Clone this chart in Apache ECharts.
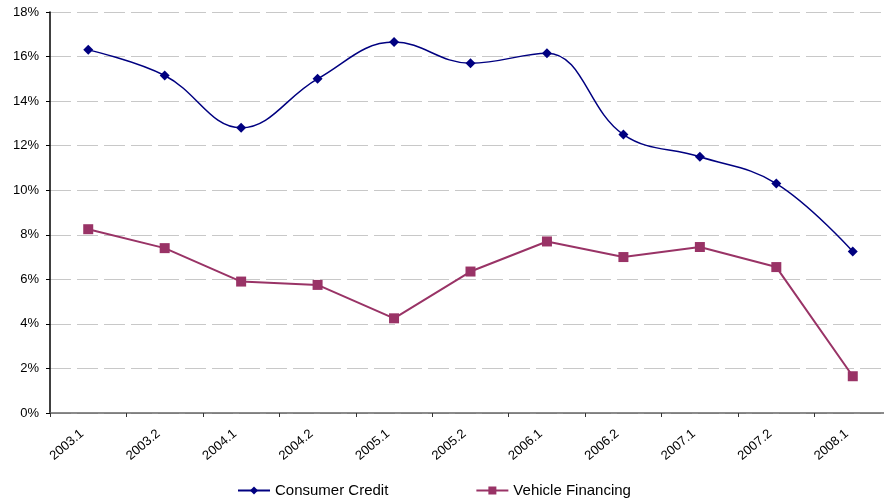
<!DOCTYPE html>
<html>
<head>
<meta charset="utf-8">
<script src="https://cdn.jsdelivr.net/npm/echarts@6/dist/echarts.min.js"></script>
<style>
  html, body { margin: 0; padding: 0; background: #fff; overflow: hidden; }
  #chart { width: 884px; height: 503px; }
</style>
</head>
<body>
<div id="chart"></div>
<script>
// Half-year periods
const periods = ['2003.1', '2003.2', '2004.1', '2004.2', '2005.1', '2005.2',
                 '2006.1', '2006.2', '2007.1', '2007.2', '2008.1'];

// Growth rates, in percent
const consumerCredit   = [16.3, 15.15, 12.8, 15.0, 16.65, 15.7, 16.15, 12.5, 11.5, 10.3, 7.25];
const vehicleFinancing = [8.25, 7.4, 5.9, 5.75, 4.25, 6.35, 7.7, 7.0, 7.45, 6.55, 1.65];

const font = 'Liberation Sans, Arial, sans-serif';

const chart = echarts.init(document.getElementById('chart'), null, { renderer: 'canvas' });
chart.setOption({
  animation: false,
  backgroundColor: '#ffffff',
  textStyle: { fontFamily: font },
  // plot area runs a little past the right edge of the canvas
  grid: {
    left: 50, width: 841, top: 12, bottom: 90,
    containLabel: false, outerBoundsMode: 'none'
  },
  legend: {
    top: 478,
    left: 232,
    itemWidth: 32,
    itemHeight: 10,
    itemGap: 87,
    textStyle: { fontFamily: font, fontSize: 15, color: '#000' },
    data: ['Consumer Credit', 'Vehicle Financing']
  },
  xAxis: {
    type: 'category',
    data: periods,
    boundaryGap: true,
    axisLine: { lineStyle: { color: '#666', width: 1.5 } },
    axisTick: { show: true, length: 4, lineStyle: { color: '#333' } },
    axisLabel: {
      rotate: 40,
      margin: 14,
      padding: [0, 8, 0, 0],
      fontSize: 13,
      color: '#000',
      fontFamily: font
    }
  },
  yAxis: {
    type: 'value',
    min: 0,
    max: 18,
    interval: 2,
    axisLine: { show: true, lineStyle: { color: '#000', width: 1.5 } },
    axisTick: { show: true, length: 4, lineStyle: { color: '#000' } },
    axisLabel: {
      formatter: '{value}%',
      fontSize: 13,
      color: '#000',
      margin: 11,
      fontFamily: font
    },
    splitLine: {
      show: true,
      lineStyle: { color: '#c8c8c8', width: 1, type: [21, 6] }
    }
  },
  series: [
    {
      name: 'Consumer Credit',
      type: 'line',
      data: consumerCredit,
      smooth: 0.4,
      symbol: 'diamond',
      symbolSize: 10,
      itemStyle: { color: '#000080' },
      lineStyle: { color: '#000080', width: 1.5 }
    },
    {
      name: 'Vehicle Financing',
      type: 'line',
      data: vehicleFinancing,
      smooth: false,
      symbol: 'rect',
      symbolSize: 10,
      itemStyle: { color: '#993366' },
      lineStyle: { color: '#993366', width: 2 }
    }
  ]
});
</script>
</body>
</html>
